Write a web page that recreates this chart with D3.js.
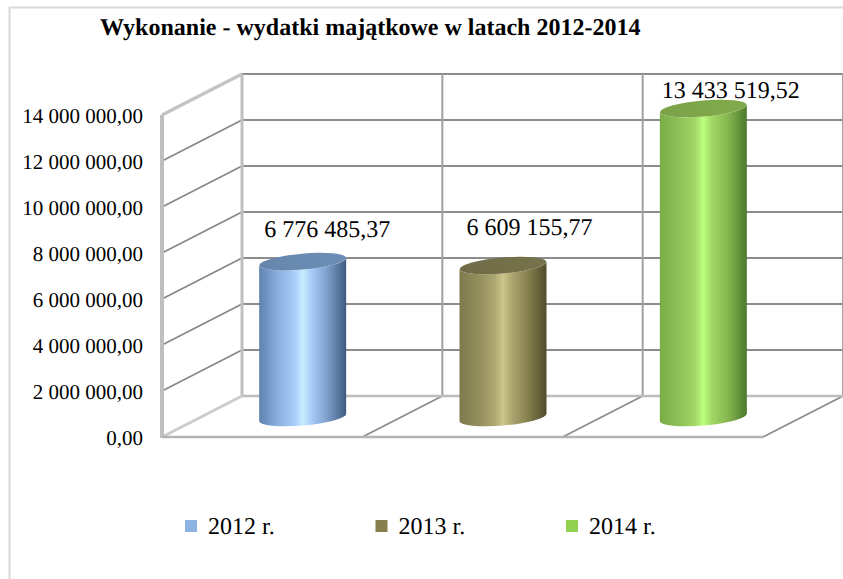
<!DOCTYPE html>
<html><head><meta charset="utf-8">
<script src="https://cdn.jsdelivr.net/npm/d3@7"></script>
<style>html,body{margin:0;background:#fff}svg{display:block}text{font-family:"Liberation Serif",serif;fill:#000;text-rendering:geometricPrecision}</style>
</head><body><svg id="c" width="843" height="579"></svg>
<script>
const chartTitle = "Wykonanie - wydatki majątkowe w latach 2012-2014";
const categories = ["2012 r.", "2013 r.", "2014 r."];
const values = [6776485.37, 6609155.77, 13433519.52];
const valueLabels = ["6 776 485,37", "6 609 155,77", "13 433 519,52"];
const tickValues = [0, 2000000, 4000000, 6000000, 8000000, 10000000, 12000000, 14000000];
const palette = [
  {top:"#6a8bb3", stops:["#5f83b0","#8cb0e0","#a6cbf8","#c9ecff","#a8ccf8","#7d9fcc","#3f5a80"], sw:"#8db3e2"},
  {top:"#74704a", stops:["#7f7a4c","#938e5c","#aca671","#cdc68a","#aca671","#87824f","#4f4c2c"], sw:"#857f4d"},
  {top:"#7fa84a", stops:["#7cae48","#8dc057","#a2d766","#bcff7d","#a2d766","#86b750","#4c7a2c"], sw:"#92d050"}
];
const svg = d3.select("#c");
const L = {x0:162, x1:763, y0:437, y1:115, dx:80, dy:-41};
const y = d3.scaleLinear().domain([0,14000000]).range([L.y0,L.y1]);
const x = d3.scaleBand().domain(categories).range([L.x0,L.x1]);

// frame
svg.append("path").attr("d","M9.5,579V7.5H843").attr("fill","none").attr("stroke","#d9d9d9").attr("stroke-width",2);

// back wall grid
const g = svg.append("g");
tickValues.slice(1).forEach(v=>{
  g.append("line").attr("x1",L.x0+L.dx).attr("x2",L.x1+L.dx).attr("y1",y(v)+L.dy).attr("y2",y(v)+L.dy).attr("stroke","#8c8c8c").attr("stroke-width",2);
  if(v<14000000) g.append("line").attr("x1",L.x0).attr("x2",L.x0+L.dx).attr("y1",y(v)).attr("y2",y(v)+L.dy).attr("stroke","#868686").attr("stroke-width",1.6);
});
x.domain().forEach((c,i)=>{
  const bx = x(c)+x.step()+L.dx;
  const last = i===categories.length-1;
  g.append("line").attr("x1",bx-(last?0.5:0)).attr("x2",bx-(last?0.5:0)).attr("y1",L.y1+L.dy).attr("y2",L.y0+L.dy).attr("stroke","#a0a0a0").attr("stroke-width",last?1:2);
  g.append("line").attr("x1",bx-L.dx).attr("x2",bx).attr("y1",L.y0).attr("y2",L.y0+L.dy).attr("stroke","#8c8c8c").attr("stroke-width",1.8);
});
g.append("line").attr("x1",L.x0+L.dx).attr("x2",L.x1+L.dx).attr("y1",L.y0+L.dy).attr("y2",L.y0+L.dy).attr("stroke","#bdbdbd").attr("stroke-width",2.5);
g.append("line").attr("x1",L.x0+L.dx).attr("x2",L.x0+L.dx).attr("y1",L.y1+L.dy).attr("y2",L.y0+L.dy).attr("stroke","#c0c0c0").attr("stroke-width",3);
g.append("line").attr("x1",L.x0).attr("x2",L.x0+L.dx).attr("y1",L.y1).attr("y2",L.y1+L.dy).attr("stroke","#c4c4c4").attr("stroke-width",3.5);
g.append("line").attr("x1",L.x0).attr("x2",L.x0+L.dx).attr("y1",L.y0).attr("y2",L.y0+L.dy).attr("stroke","#cccccc").attr("stroke-width",3);
g.append("line").attr("x1",L.x0).attr("x2",L.x0).attr("y1",L.y1).attr("y2",L.y0+1).attr("stroke","#bfbfbf").attr("stroke-width",4);
g.append("line").attr("x1",L.x0).attr("x2",L.x1).attr("y1",L.y0).attr("y2",L.y0).attr("stroke","#b4b4b4").attr("stroke-width",2.5);

// axis
const axis = d3.axisLeft(y).tickValues(tickValues).tickSize(0).tickPadding(0)
  .tickFormat(v=>d3.format(",.2f")(v).replace(/,/g," ").replace(".",","));
const ag = svg.append("g").attr("transform",`translate(${L.x0-19},0)`).call(axis);
ag.select(".domain").remove();
ag.selectAll("text").attr("font-size",21).attr("font-family","Liberation Serif").attr("fill","#000").attr("dy","0.36em");

// gradients
const defs = svg.append("defs");
palette.forEach((p,i)=>{
  const gr = defs.append("linearGradient").attr("id","g"+i);
  p.stops.forEach((s,k)=>gr.append("stop").attr("offset",[0,.22,.4,.5,.6,.78,1][k]).attr("stop-color",s));
  const t = defs.append("linearGradient").attr("id","t"+i);
  t.append("stop").attr("offset",0).attr("stop-color",d3.color(p.top).darker(.1));
  t.append("stop").attr("offset",1).attr("stop-color",d3.color(p.top).brighter(.05));
});

// cylinders
const rx=43.5, ry=8, rot=-5, tilt=3.8;
const bars = svg.append("g").selectAll("g").data(values).join("g");
bars.each(function(v,i){
  const sel = d3.select(this);
  const cx = x(categories[i])+x.bandwidth()/2+40.5;
  const by = y(0)+L.dy/2+1, ty = y(v)+L.dy/2+1;
  const body = `M${cx-rx},${ty+tilt}L${cx-rx},${by+tilt}A${rx},${ry},${rot},0,0,${cx+rx},${by-tilt}L${cx+rx},${ty-tilt}A${rx},${ry},${rot},0,1,${cx-rx},${ty+tilt}Z`;
  sel.append("path").attr("d",body).attr("fill",`url(#g${i})`);
  sel.append("ellipse").attr("cx",0).attr("cy",0).attr("rx",rx).attr("ry",ry)
    .attr("transform",`translate(${cx},${ty}) rotate(${rot})`).attr("fill",`url(#t${i})`);
});

// data labels
const labelShift = [[25,-25],[27,-30],[28,-11]];
svg.append("g").selectAll("text").data(values).join("text")
  .attr("x",(v,i)=>x(categories[i])+x.bandwidth()/2+40+labelShift[i][0])
  .attr("y",(v,i)=>y(v)+L.dy/2+1+labelShift[i][1])
  .attr("text-anchor","middle").attr("font-size",24).text((v,i)=>valueLabels[i]);

// title
svg.append("text").attr("x",100).attr("y",35).attr("font-size",24).attr("font-weight","bold").text(chartTitle);

// legend
const lx = d3.scalePoint().domain(categories).range([185,566]);
const lg = svg.append("g").selectAll("g").data(categories).join("g").attr("transform",c=>`translate(${lx(c)},0)`);
lg.append("rect").attr("y",520).attr("width",12).attr("height",12).attr("fill",(c,i)=>palette[i].sw);
lg.append("text").attr("x",23).attr("y",534).attr("font-size",24).text(c=>c);
</script></body></html>
